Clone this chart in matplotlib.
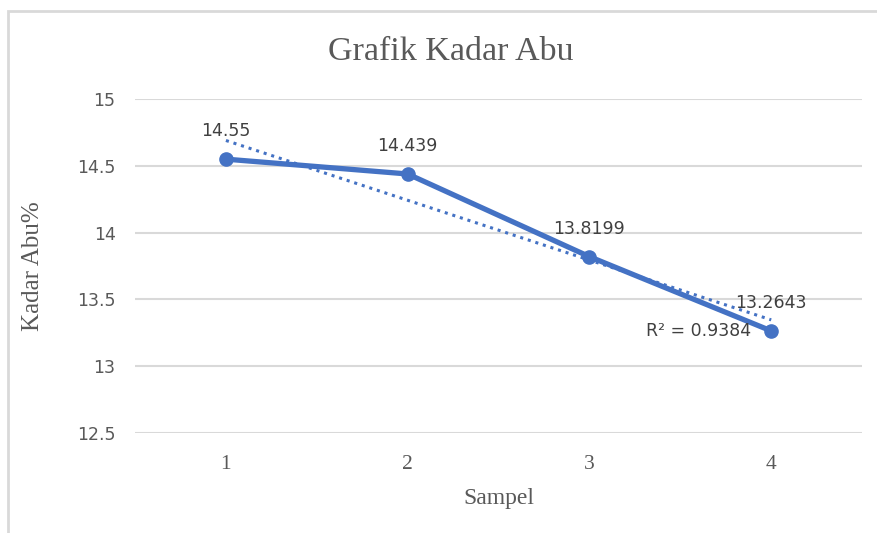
import numpy as np
import matplotlib.pyplot as plt
from matplotlib.patches import Rectangle

# data
sampel = [1, 2, 3, 4]
kadar_abu = [14.55, 14.439, 13.8199, 13.2643]
label_text = ["14.55", "14.439", "13.8199", "13.2643"]
y_ticks = [12.5, 13, 13.5, 14, 14.5, 15]
r2_text = "R² = 0.9384"

blue = "#4472C4"
grey_txt = "#595959"
grid_col = "#D9D9D9"

fig = plt.figure(figsize=(8.77, 5.33), dpi=100)
ax = fig.add_axes([0.154, 0.1876, 0.829, 0.6266])

# outer chart border (only left and top visible in the crop)
fig.patches.append(Rectangle((8 / 877, -0.1), 1.2, 1 - 11 / 533 + 0.1, transform=fig.transFigure,
                             fill=False, edgecolor=grid_col, linewidth=2))

ax.plot(sampel, kadar_abu, color=blue, linewidth=3.8, marker="o", markersize=9.5,
        solid_capstyle="round", zorder=3)

# linear trendline
coef = np.polyfit(sampel, kadar_abu, 1)
xt = np.array([sampel[0], sampel[-1]])
ax.plot(xt, np.polyval(coef, xt), color=blue, linewidth=2.2, linestyle=(0, (1, 1.6)), zorder=2)

for x, y, t in zip(sampel, kadar_abu, label_text):
    ax.annotate(t, (x, y), xytext=(0, 20), textcoords="offset points", ha="center", va="center",
                fontsize=12.5, color="#404040", family="DejaVu Sans", zorder=4)

ax.annotate(r2_text, (sampel[-1], np.polyval(coef, sampel[-1])), xytext=(-90, -8),
            textcoords="offset points", ha="left", va="center", fontsize=12.5, color="#404040")

ax.set_xlim(0.5, 4.5)
ax.set_ylim(12.5, 15)
ax.set_xticks(sampel)
ax.set_xticklabels([str(s) for s in sampel], family="Liberation Serif", fontsize=15.5, color=grey_txt)
ax.set_yticks(y_ticks)
ax.set_yticklabels([f"{v:g}" for v in y_ticks], fontsize=12.5, color=grey_txt)
ax.tick_params(length=0, pad=14, axis="y")
ax.tick_params(length=0, pad=16, axis="x")
ax.grid(axis="y", color=grid_col, linewidth=1.5)
ax.set_axisbelow(True)
for s in ax.spines.values():
    s.set_visible(False)

ax.set_xlabel("Sampel", family="Liberation Serif", fontsize=17, color=grey_txt, labelpad=10)
ax.set_ylabel("Kadar Abu%", family="Liberation Serif", fontsize=18, color=grey_txt, labelpad=24)
fig.text(0.514, 0.903, "Grafik Kadar Abu", family="Liberation Serif", fontsize=24.5,
         color=grey_txt, ha="center", va="center")

plt.savefig("out.png", dpi=100)
